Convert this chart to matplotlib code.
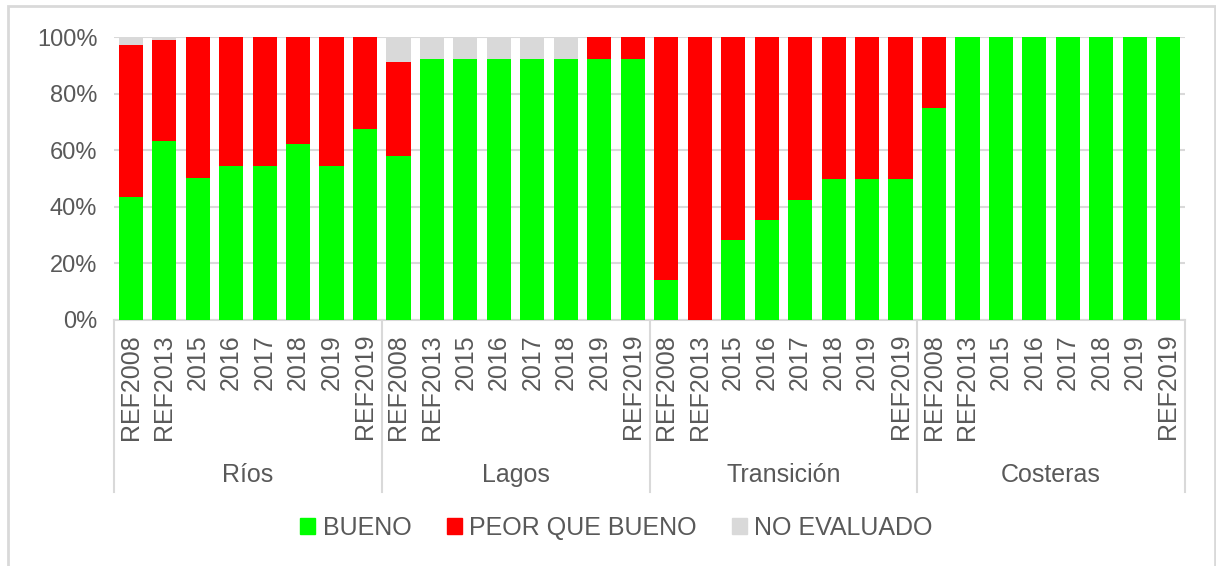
import numpy as np
import matplotlib
matplotlib.use('Agg')
import matplotlib.pyplot as plt
from matplotlib.patches import Rectangle, Patch
from matplotlib.ticker import FuncFormatter

plt.rcParams['font.family'] = ['Liberation Sans', 'DejaVu Sans']

groups = ['Ríos', 'Lagos', 'Transición', 'Costeras']
years = ['REF2008', 'REF2013', '2015', '2016', '2017', '2018', '2019', 'REF2019']

# % of water bodies, in the order Ríos, Lagos, Transición, Costeras
bueno = [43.5, 63.2, 50.2, 54.5, 54.5, 62.3, 54.5, 67.6,
         58.0, 92.2, 92.2, 92.2, 92.2, 92.2, 92.2, 92.2,
         14.0, 0.0, 28.4, 35.2, 42.4, 50.0, 50.0, 50.0,
         75.0, 100, 100, 100, 100, 100, 100, 100]
peor = [53.5, 35.7, 49.8, 45.5, 45.5, 37.7, 45.5, 32.4,
        33.2, 0, 0, 0, 0, 0, 7.8, 7.8,
        86.0, 100, 71.6, 64.8, 57.6, 50.0, 50.0, 50.0,
        25.0, 0, 0, 0, 0, 0, 0, 0]
no_evaluado = [3.0, 1.1, 0, 0, 0, 0, 0, 0,
               8.8, 7.8, 7.8, 7.8, 7.8, 7.8, 0, 0,
               0, 0, 0, 0, 0, 0, 0, 0,
               0, 0, 0, 0, 0, 0, 0, 0]

c_green, c_red, c_gray = '#00FF00', '#FF0000', '#D9D9D9'
txt = '#595959'
grid = '#D9D9D9'

fig = plt.figure(figsize=(12.16, 5.66), dpi=100)
ax = fig.add_axes([114 / 1216, 1 - 320 / 566, (1185 - 114) / 1216, 283 / 566])

x = np.arange(len(bueno))
b = np.array(bueno)
p = np.array(peor)
n = np.array(no_evaluado)
w = 0.72
ax.bar(x, b, w, color=c_green, zorder=3, label='BUENO')
ax.bar(x, p, w, bottom=b, color=c_red, zorder=3, label='PEOR QUE BUENO')
ax.bar(x, n, w, bottom=b + p, color=c_gray, zorder=3, label='NO EVALUADO')

ax.set_ylim(0, 100)
ax.set_xlim(-0.5, len(bueno) - 0.5)
ax.set_yticks(range(0, 101, 20))
ax.yaxis.set_major_formatter(FuncFormatter(lambda v, _: f'{v:.0f}%'))
ax.grid(axis='y', color=grid, lw=1.5, zorder=0)
for s in ['top', 'right', 'left']:
    ax.spines[s].set_visible(False)
ax.spines['bottom'].set_color(grid)
ax.spines['bottom'].set_linewidth(1.5)

ax.set_xticks(x)
ax.set_xticklabels(years * len(groups), rotation=90, fontsize=18, color=txt)
ax.tick_params(axis='x', length=0, pad=10)
ax.tick_params(axis='y', length=0, pad=12, labelsize=17, labelcolor=txt)

# group separators and names
trans = ax.get_xaxis_transform()
ng = len(years)
for k in range(len(groups) + 1):
    ax.plot([k * ng - 0.5] * 2, [0, -0.608], transform=trans, color=grid,
            lw=1.5, clip_on=False)
for k, g in enumerate(groups):
    ax.text(k * ng + (ng - 1) / 2, -0.548, g, transform=trans, ha='center',
            va='center', fontsize=18, color=txt)

handles = [Patch(color=c_green), Patch(color=c_red), Patch(color=c_gray)]
fig.legend(handles, ['BUENO', 'PEOR QUE BUENO', 'NO EVALUADO'], loc='center',
           bbox_to_anchor=(0.507, 1 - 528 / 566), ncol=3, frameon=False,
           fontsize=18, labelcolor=txt, handlelength=0.6, handleheight=0.6,
           handletextpad=0.3, columnspacing=1.4)

# outer chart border
fig.patches.append(Rectangle((8 / 1216, -0.05), (1215 - 8) / 1216, 1.05 - 6 / 566,
                             transform=fig.transFigure, fill=False,
                             edgecolor=grid, lw=2))

fig.savefig('out.png', dpi=100)
